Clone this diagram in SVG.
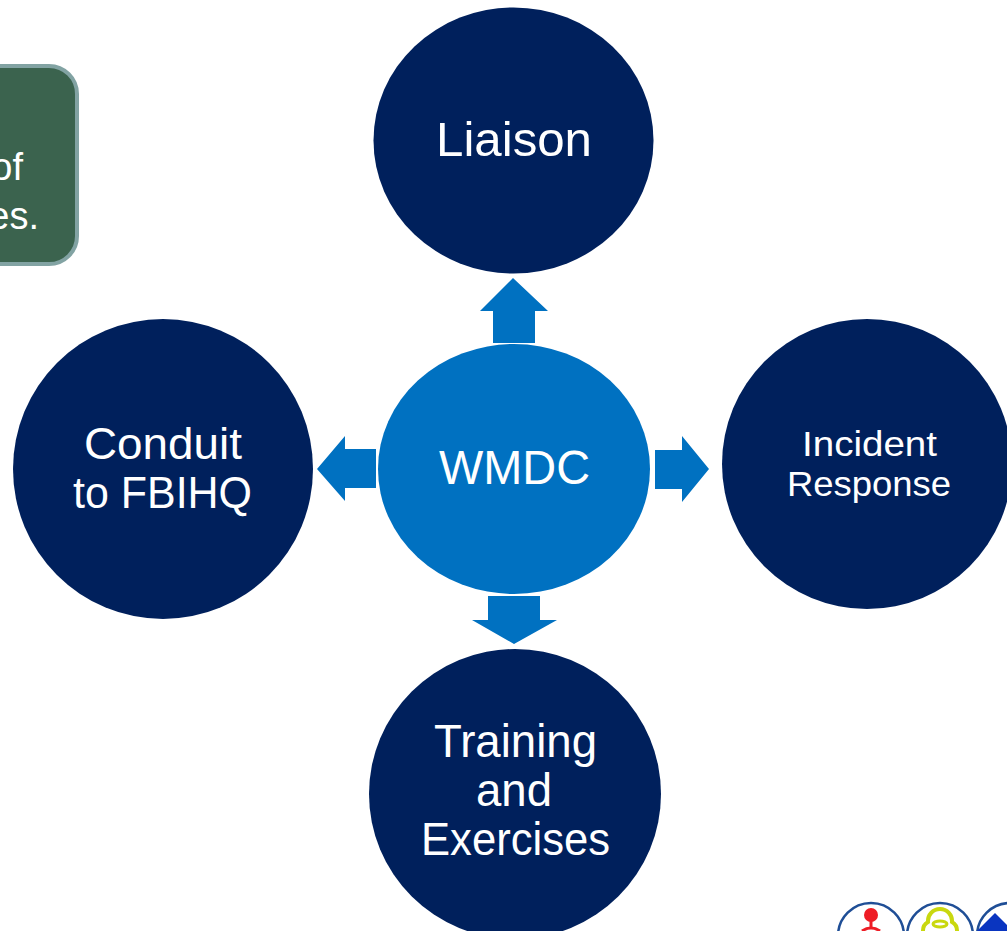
<svg xmlns="http://www.w3.org/2000/svg" width="1007" height="931" viewBox="0 0 1007 931">
<style>
text{font-family:"Liberation Sans",Arial,sans-serif;fill:#fff;text-anchor:middle}
.n{fill:#00205c}
.a{fill:#0071c1}
.r{fill:none;stroke:#1f4e96;stroke-width:2.500}
</style>
<rect width="1007" height="931" fill="#fff"/>
<g id="note">
<rect x="-40" y="66" width="117" height="198" rx="28" fill="#3b634e" stroke="#82a3a3" stroke-width="4"/>
<text x="23" y="180" font-size="38" style="text-anchor:end">of</text>
<text x="39" y="229" font-size="38" style="text-anchor:end">es.</text>
</g>
<g id="connectors">
<polygon class="a" points="513,278 548,311 535,311 535,343 493,343 493,311 480,311"/>
<polygon class="a" points="317,469 345,436 345,449 376,449 376,488 345,488 345,501"/>
<polygon class="a" points="709,469 682,436 682,450 655,450 655,489 682,489 682,502"/>
<polygon class="a" points="514,644 472,620 488,620 488,596 540,596 540,620 557,620"/>
</g>
<g id="liaison">
<ellipse class="n" cx="513.500" cy="140.500" rx="140" ry="133"/>
<text x="514" y="156" font-size="49" textLength="156" lengthAdjust="spacingAndGlyphs">Liaison</text>
</g>
<g id="conduit">
<ellipse class="n" cx="163" cy="469" rx="150" ry="150"/>
<text x="163" y="459" font-size="44" textLength="158" lengthAdjust="spacingAndGlyphs">Conduit</text>
<text x="162.500" y="508" font-size="44" textLength="179" lengthAdjust="spacingAndGlyphs">to FBIHQ</text>
</g>
<g id="incident">
<ellipse class="n" cx="867" cy="464" rx="145" ry="145"/>
<text x="869.500" y="456" font-size="35" textLength="135" lengthAdjust="spacingAndGlyphs">Incident</text>
<text x="869" y="496" font-size="35" textLength="164" lengthAdjust="spacingAndGlyphs">Response</text>
</g>
<g id="training">
<ellipse class="n" cx="515" cy="794" rx="146" ry="145"/>
<text x="515.500" y="757" font-size="46" textLength="163" lengthAdjust="spacingAndGlyphs">Training</text>
<text x="514" y="806" font-size="46" textLength="76" lengthAdjust="spacingAndGlyphs">and</text>
<text x="515.500" y="855" font-size="46" textLength="189" lengthAdjust="spacingAndGlyphs">Exercises</text>
</g>
<g id="wmdc">
<ellipse class="a" cx="514" cy="469" rx="136" ry="125"/>
<text x="514.500" y="484" font-size="48" textLength="151" lengthAdjust="spacingAndGlyphs">WMDC</text>
</g>
<g id="icons">
<circle class="r" cx="871" cy="936" r="33"/>
<circle class="r" cx="940" cy="936" r="33"/>
<circle class="r" cx="1010" cy="936" r="33"/>
<circle cx="871" cy="915" r="7" fill="#ee1c25"/>
<rect x="869.500" y="920" width="3" height="8" fill="#ee1c25"/>
<path d="M862 931q9-6 18 0" fill="none" stroke="#ee1c25" stroke-width="3"/>
<path d="M940 909a12 12 0 0 1 12 13a10 10 0 0 1 5 9M940 909a12 12 0 0 0-12 13a10 10 0 0 0-5 9" fill="none" stroke="#c9d80f" stroke-width="4"/>
<ellipse cx="940" cy="924" rx="7" ry="3" fill="none" stroke="#c9d80f" stroke-width="3"/>
<path d="M995 913l-18 18h36z" fill="#0a35c0"/>
</g>
</svg>
